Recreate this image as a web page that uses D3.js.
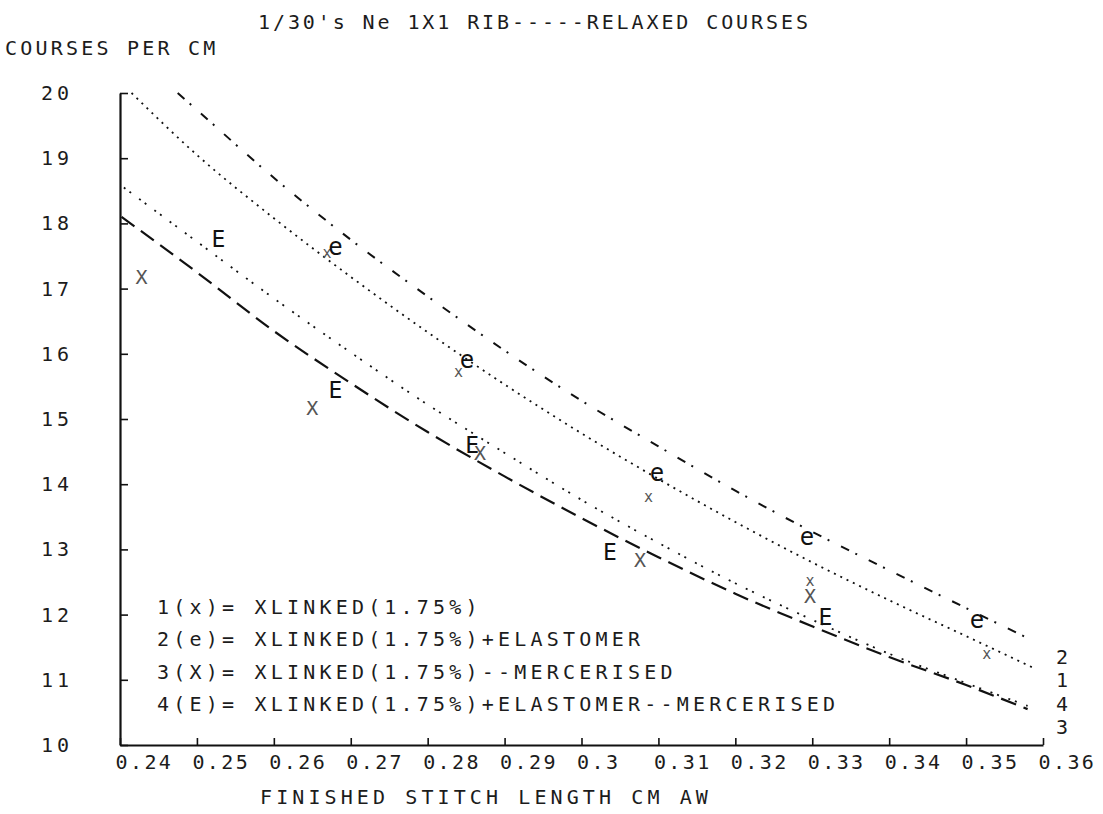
<!DOCTYPE html>
<html>
<head>
<meta charset="utf-8">
<script src="https://cdn.jsdelivr.net/npm/d3@7"></script>
<style>
    body { margin: 0; background: #fff; }
    svg text { font-family: "DejaVu Sans Mono", monospace; fill: #1c1c1c; }
</style>
</head>
<body>
<svg id="chart" width="1103" height="814"></svg>
<script>
// ---- data ----
const titleText = "1/30's Ne 1X1 RIB-----RELAXED COURSES";
const yTitle = 'COURSES PER CM';
const xTitle = 'FINISHED STITCH LENGTH CM AW';

const xTicks = [0.24, 0.25, 0.26, 0.27, 0.28, 0.29, 0.30, 0.31, 0.32, 0.33, 0.34, 0.35, 0.36];
const xTickLabels = ['0.24', '0.25', '0.26', '0.27', '0.28', '0.29', '0.3', '0.31', '0.32', '0.33', '0.34', '0.35', '0.36'];
const yTicks = [10, 11, 12, 13, 14, 15, 16, 17, 18, 19, 20];

// fitted curves
const line1X = [0.2415, 0.25, 0.26, 0.27, 0.28, 0.29, 0.30, 0.31, 0.32, 0.33, 0.34, 0.35, 0.359];
const line1Y = [20.0, 19.05, 18.08, 17.18, 16.33, 15.53, 14.78, 14.08, 13.42, 12.80, 12.22, 11.67, 11.17];
const line2X = [0.2475, 0.25, 0.26, 0.27, 0.28, 0.29, 0.30, 0.31, 0.32, 0.33, 0.34, 0.35, 0.358];
const line2Y = [20.0, 19.74, 18.70, 17.75, 16.88, 16.05, 15.28, 14.58, 13.90, 13.27, 12.68, 12.10, 11.64];
const line3X = [0.2402, 0.25, 0.26, 0.27, 0.28, 0.29, 0.30, 0.31, 0.32, 0.33, 0.34, 0.35, 0.358];
const line3Y = [18.1, 17.25, 16.35, 15.55, 14.80, 14.12, 13.48, 12.88, 12.32, 11.82, 11.35, 10.92, 10.55];
const line4X = [0.2405, 0.25, 0.26, 0.27, 0.28, 0.29, 0.30, 0.31, 0.32, 0.33, 0.34, 0.35, 0.358];
const line4Y = [18.55, 17.72, 16.85, 16.02, 15.22, 14.48, 13.76, 13.10, 12.48, 11.92, 11.40, 10.95, 10.60];

// measured points
const pts1X = [0.2669, 0.2840, 0.3087, 0.3297, 0.3527];
const pts1Y = [17.55, 15.72, 13.80, 12.52, 11.40];
const pts2X = [0.2680, 0.2851, 0.3098, 0.3293, 0.3514];
const pts2Y = [17.64, 15.90, 14.17, 13.19, 11.92];
const pts3X = [0.2428, 0.2650, 0.2868, 0.3076, 0.3297];
const pts3Y = [17.18, 15.17, 14.48, 12.84, 12.28];
const pts4X = [0.2528, 0.2680, 0.2858, 0.3037, 0.3317];
const pts4Y = [17.76, 15.44, 14.60, 12.96, 11.96];

const legendLines = [
    '1(x)= XLINKED(1.75%)',
    '2(e)= XLINKED(1.75%)+ELASTOMER',
    '3(X)= XLINKED(1.75%)--MERCERISED',
    '4(E)= XLINKED(1.75%)+ELASTOMER--MERCERISED'
];
const endLabels = ['2', '1', '4', '3'];

// ---- layout ----
const svg = d3.select('#chart');
const x = d3.scaleLinear().domain([0.24, 0.36]).range([120, 1043]);
const y = d3.scaleLinear().domain([10, 20]).range([745, 93]);

const zip = (xs, ys) => xs.map((v, i) => [v, ys[i]]);
const line = d3.line()
    .x(d => x(d[0]))
    .y(d => y(d[1]))
    .curve(d3.curveMonotoneX);

const series = [
    { pts: zip(line2X, line2Y), dash: '9,7,2,13', width: 2 },
    { pts: zip(line1X, line1Y), dash: '2,5', width: 1.8 },
    { pts: zip(line4X, line4Y), dash: '2,5,2,10', width: 1.8 },
    { pts: zip(line3X, line3Y), dash: '16,8', width: 2.2 }
];

series.forEach(s => {
    svg.append('path')
        .datum(s.pts)
        .attr('d', line)
        .attr('fill', 'none')
        .attr('stroke', '#111')
        .attr('stroke-width', s.width)
        .attr('stroke-dasharray', s.dash);
});

// markers as plotter characters (x and X are drawn faint in the original)
const markers = [
    { pts: zip(pts1X, pts1Y), ch: 'x', size: 15, color: '#555' },
    { pts: zip(pts2X, pts2Y), ch: 'e', size: 24, color: '#111' },
    { pts: zip(pts3X, pts3Y), ch: 'X', size: 20, color: '#555' },
    { pts: zip(pts4X, pts4Y), ch: 'E', size: 23, color: '#111' }
];

markers.forEach(m => {
    svg.append('g').selectAll('text')
        .data(m.pts)
        .join('text')
        .attr('x', d => x(d[0]))
        .attr('y', d => y(d[1]))
        .attr('text-anchor', 'middle')
        .attr('dominant-baseline', 'central')
        .style('font-size', m.size + 'px')
        .style('fill', m.color)
        .text(m.ch);
});

// axes
const xAxis = d3.axisBottom(x)
    .tickValues(xTicks)
    .tickFormat((d, i) => xTickLabels[i])
    .tickSizeInner(-7)
    .tickSizeOuter(0)
    .tickPadding(10);

const gx = svg.append('g')
    .attr('transform', 'translate(0,745)')
    .call(xAxis);
gx.select('.domain').attr('stroke', '#111').attr('stroke-width', 2.2);
gx.selectAll('.tick line').attr('stroke', '#111').attr('stroke-width', 1.6);
gx.selectAll('.tick text')
    .attr('text-anchor', 'start')
    .attr('x', -5)
    .style('font-size', '20px')
    .style('letter-spacing', '2.4px')
    .attr('fill', '#1c1c1c');

const yAxis = d3.axisLeft(y)
    .tickValues(yTicks)
    .tickFormat(d3.format('d'))
    .tickSizeInner(-8)
    .tickSizeOuter(0)
    .tickPadding(47);

const gy = svg.append('g')
    .attr('transform', 'translate(120,0)')
    .call(yAxis);
gy.select('.domain').attr('stroke', '#111').attr('stroke-width', 2.2);
gy.selectAll('.tick line').attr('stroke', '#111').attr('stroke-width', 1.6);
gy.selectAll('.tick text')
    .style('font-size', '20px')
    .style('letter-spacing', '4px')
    .attr('fill', '#1c1c1c');

// titles
svg.append('text')
    .attr('x', 258).attr('y', 29)
    .style('font-size', '20px')
    .style('letter-spacing', '2.9px')
    .text(titleText);

svg.append('text')
    .attr('x', 5).attr('y', 55)
    .style('font-size', '20px')
    .style('letter-spacing', '3.2px')
    .text(yTitle);

svg.append('text')
    .attr('x', 260).attr('y', 804)
    .style('font-size', '20px')
    .style('letter-spacing', '4.1px')
    .text(xTitle);

// legend
svg.append('g').selectAll('text')
    .data(legendLines)
    .join('text')
    .attr('x', 157)
    .attr('y', (d, i) => 614 + i * 32.3)
    .style('font-size', '20px')
    .style('letter-spacing', '4.2px')
    .text(d => d);

// curve numbers at the right end
svg.append('g').selectAll('text')
    .data(endLabels)
    .join('text')
    .attr('x', 1062)
    .attr('y', (d, i) => 664 + i * 23.3)
    .attr('text-anchor', 'middle')
    .style('font-size', '20px')
    .text(d => d);
</script>
</body>
</html>
